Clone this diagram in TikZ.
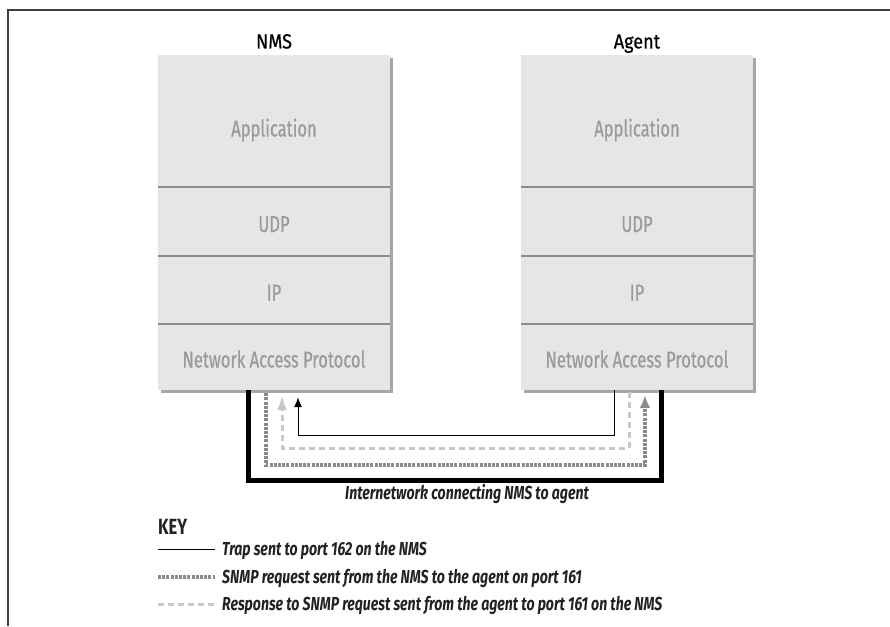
\documentclass[tikz,border=0pt]{standalone}
\usepackage{fontspec}
\setmainfont{Fira Sans}
\newfontfamily\layerfont[FakeStretch=0.72,FakeBold=0.4]{Fira Sans}
\newfontfamily\titlefont[FakeStretch=0.88,FakeBold=0.6]{Fira Sans}
\newfontfamily\keyfont[FakeStretch=0.75]{Fira Sans}
\usetikzlibrary{arrows.meta,shadows}

\definecolor{layerfill}{HTML}{E6E6E6}
\definecolor{layertext}{HTML}{9A9A9A}
\definecolor{layerline}{HTML}{8C8C8C}
\definecolor{layershadow}{HTML}{A6A6A6}
\definecolor{reqgray}{HTML}{8A8A8A}
\definecolor{respgray}{HTML}{C8C8C8}
\definecolor{keytext}{HTML}{222222}

\tikzset{
  layer/.style={rectangle, fill=layerfill, text=layertext, minimum width=232pt,
    inner sep=0pt, text height=26pt, text depth=5pt,
    font=\layerfont\fontsize{23}{25}\selectfont,
    drop shadow={shadow xshift=3pt, shadow yshift=-3pt, fill=layershadow, opacity=1}},
  title/.style={anchor=base, inner sep=0pt, font=\titlefont\fontsize{20.5}{23}\selectfont},
  divider/.style={layerline, line width=2.5pt},
  netline/.style={black, line width=5pt},
  trapline/.style={black, line width=1pt},
  reqline/.style={reqgray, line width=3.5pt, dash pattern=on 3pt off 1.2pt},
  respline/.style={respgray, line width=3pt, dash pattern=on 6pt off 4pt},
  keyitem/.style={anchor=base west, inner sep=0pt, text=keytext,
    font=\keyfont\fontsize{18.8}{21}\selectfont\bfseries\itshape},
}

\begin{document}
\begin{tikzpicture}[x=1pt,y=-1pt]
\useasboundingbox (0,0) rectangle (890,626);
\draw[black!75, line width=1.5pt] (8,626) -- (8,10) -- (890,10);

% the two protocol stacks
\foreach \s/\x/\t in {nms/274/NMS, agt/637/Agent} {
  \node[title] (\s) at (\x,48.5) {\t};
  \node[layer, minimum height=132pt, text height=36pt] (\s app) at (\x,121) {Application};
  \node[layer, minimum height=69pt] (\s udp) at (\x,221.5) {UDP};
  \node[layer, minimum height=68pt] (\s ip) at (\x,290) {IP};
  \node[layer, minimum height=66pt] (\s nap) at (\x,357) {Network Access Protocol};
  \foreach \l in {app,udp,ip}
    \draw[divider] (\s\l.south west) -- (\s\l.south east);
}

% internetwork and messages
\draw[netline] ([xshift=-26pt]nmsnap.south) -- ++(0,90) -| ([xshift=24pt]agtnap.south);
\draw[reqline, -{Latex[length=13pt,width=11pt]}, shorten >=5pt]
  ([xshift=-8pt,yshift=-3pt]nmsnap.south) -- ++(0,72) -| ([xshift=8pt]agtnap.south);
\draw[respline, -{Latex[length=15pt,width=10pt]}, shorten >=5pt]
  ([xshift=-8pt,yshift=-2pt]agtnap.south) -- ++(0,56) -| ([xshift=8pt]nmsnap.south);
\draw[trapline, -{Latex[length=10pt,width=8pt]}, shorten >=7pt]
  ([xshift=-23pt]agtnap.south) -- ++(0,45) -| ([xshift=24pt]nmsnap.south);
\node[keyitem, anchor=base] (inet) at (467,499) {Internetwork connecting NMS to agent};

% key
\node[anchor=base west, inner sep=0pt, text=keytext, font=\keyfont\fontsize{22}{24}\selectfont\bfseries] (key) at (158,534.5) {KEY};
\node[keyitem] (keytrap) at (222,555) {Trap sent to port 162 on the NMS};
\node[keyitem] (keyreq) at (222,583) {SNMP request sent from the NMS to the agent on port 161};
\node[keyitem] (keyresp) at (222,610) {Response to SNMP request sent from the agent to port 161 on the NMS};
\draw[trapline] ([xshift=-64pt,yshift=6pt]keytrap.base west) -- ([xshift=-7pt,yshift=6pt]keytrap.base west);
\draw[reqline] ([xshift=-64pt,yshift=6pt]keyreq.base west) -- ([xshift=-7pt,yshift=6pt]keyreq.base west);
\draw[respline] ([xshift=-64pt,yshift=6pt]keyresp.base west) -- ([xshift=-7pt,yshift=6pt]keyresp.base west);
\end{tikzpicture}
\end{document}
